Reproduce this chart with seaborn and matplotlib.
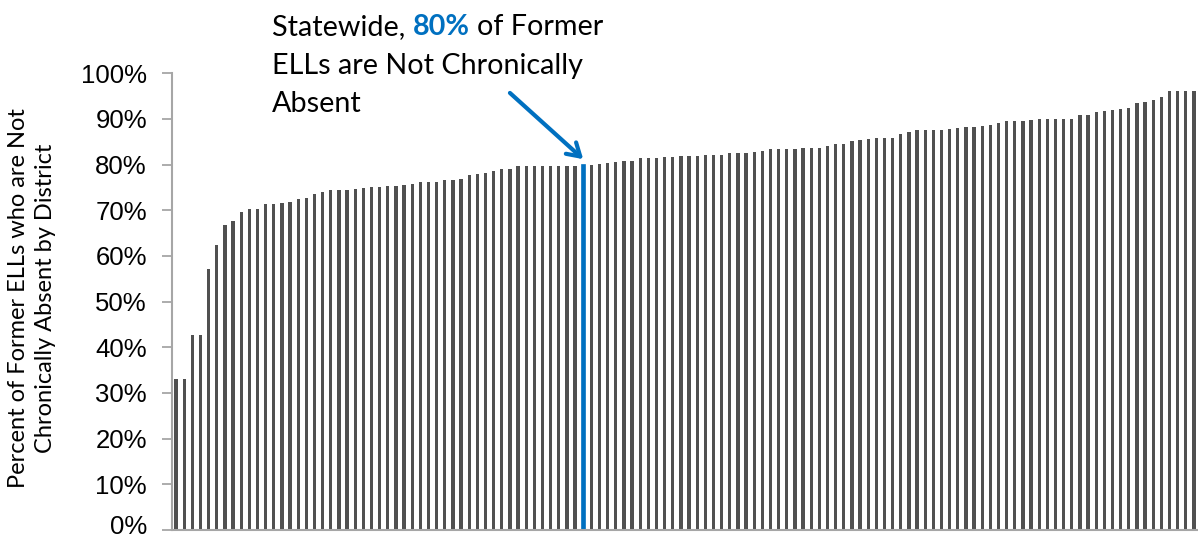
import matplotlib
matplotlib.use("Agg")
import matplotlib.pyplot as plt
import matplotlib.colors as mcolors
import seaborn as sns
import pandas as pd

# ---------------- data ----------------
pct_not_absent = [
    33.1, 33.1, 42.8, 42.8, 57.2, 62.5, 66.8, 67.6, 69.6, 70.2,
    70.2, 71.4, 71.4, 71.6, 71.8, 72.4, 72.7, 73.6, 73.9, 74.4,
    74.4, 74.4, 74.6, 74.9, 75.0, 75.0, 75.4, 75.4, 75.5, 75.7,
    76.1, 76.3, 76.3, 76.6, 76.6, 76.8, 77.7, 77.9, 78.2, 78.7,
    79.0, 79.1, 79.6, 79.6, 79.6, 79.6, 79.6, 79.7, 79.7, 79.8,
    80.0, 80.0, 80.1, 80.4, 80.6, 80.9, 80.9, 81.4, 81.4, 81.4,
    81.6, 81.6, 81.8, 81.8, 81.8, 82.1, 82.1, 82.1, 82.5, 82.5,
    82.6, 82.8, 83.0, 83.4, 83.4, 83.4, 83.4, 83.6, 83.7, 83.7,
    84.0, 84.5, 84.5, 85.1, 85.3, 85.6, 85.9, 85.9, 85.9, 86.8,
    87.1, 87.5, 87.5, 87.6, 87.6, 87.8, 88.1, 88.2, 88.2, 88.4,
    88.7, 89.2, 89.6, 89.6, 89.6, 89.8, 90.0, 90.0, 90.1, 90.1,
    90.1, 90.8, 90.9, 91.6, 91.8, 91.9, 92.2, 92.4, 93.5, 93.8,
    94.1, 94.8, 96.1, 96.1, 96.1, 96.1,
]
statewide_index = 50
statewide_label = "80%"
districts = [f"District {i + 1}" for i in range(len(pct_not_absent))]
groups = ["Statewide" if i == statewide_index else "District" for i in range(len(pct_not_absent))]
y_ticks = [0, 10, 20, 30, 40, 50, 60, 70, 80, 90, 100]
y_tick_labels = [f"{t}%" for t in y_ticks]

GRAY = "#505050"
BLUE = "#0070C0"
AXIS = "#A6A6A6"

df = pd.DataFrame({"district": districts, "pct": pct_not_absent, "group": groups})

W, H = 1198, 542
fig = plt.figure(figsize=(W / 100, H / 100), dpi=100)
ax = fig.add_axes([172 / W, 12 / H, 1026 / W, 456.7 / H])

sns.barplot(data=df, x="district", y="pct", hue="group", order=districts,
            palette={"District": GRAY, "Statewide": BLUE}, dodge=False,
            width=0.4, saturation=1, legend=False, ax=ax)

# statewide bar drawn slightly wider (outlined) as in the reference
blue_rgba = mcolors.to_rgba(BLUE)
for p in ax.patches:
    if all(abs(a - b) < 1e-3 for a, b in zip(p.get_facecolor(), blue_rgba)):
        p.set_edgecolor(BLUE)
        p.set_linewidth(1.2)

TICK_FS = 18.5
TICK_PAD = 11
TICK_LEN = 7
ax.set_xlim(-0.5, len(districts) - 0.5)
ax.set_ylim(0, 100)
ax.set_yticks(y_ticks)
# the 0% label sits at the very bottom edge: draw it separately, nudged up slightly
ax.set_yticklabels([""] + y_tick_labels[1:], fontsize=TICK_FS,
                   family="Liberation Sans", color="black")
ax.annotate(y_tick_labels[0], xy=(0, 0), xycoords=("axes fraction", "data"),
            xytext=(-(TICK_LEN + TICK_PAD), 2.5), textcoords="offset points",
            ha="right", va="center", fontsize=TICK_FS, family="Liberation Sans",
            color="black", annotation_clip=False)
ax.set_xticks([])
ax.set_xlabel("")
ax.set_ylabel("")
for s in ["top", "right"]:
    ax.spines[s].set_visible(False)
for s in ["left", "bottom"]:
    ax.spines[s].set_color(AXIS)
    ax.spines[s].set_linewidth(1.5)
ax.tick_params(axis="y", length=TICK_LEN, width=1.3, color=AXIS, pad=TICK_PAD)
ax.set_facecolor("white")

TEXT_FONT = ["Lato", "DejaVu Sans"]
renderer = fig.canvas.get_renderer()


def width_px(t):
    return t.get_window_extent(renderer=renderer).width


def fit(t, target):
    for _ in range(3):
        w = width_px(t)
        t.set_fontsize(t.get_fontsize() * target / w)


# y-axis label (two lines)
ylab = fig.text(32 / W, 1 - 298 / H,
                "Percent of Former ELLs who are Not\nChronically Absent by District",
                rotation=90, ha="center", va="center", multialignment="center",
                family=TEXT_FONT, fontsize=15, linespacing=1.3)
probe = fig.text(0, 0, "Percent of Former ELLs who are Not", family=TEXT_FONT, fontsize=15)
fit(probe, 380)
ylab.set_fontsize(probe.get_fontsize())
probe.remove()

# annotation text
x0 = 272 / W
base1 = 1 - 35 / H
base2 = 1 - 74 / H
base3 = 1 - 112 / H
probe = fig.text(0, 0, "Statewide, 80% of Former", family=TEXT_FONT, fontsize=20)
fit(probe, 331)
fs = probe.get_fontsize()
probe.remove()

t1 = fig.text(x0, base1, "Statewide,", family=TEXT_FONT, fontsize=fs, va="baseline")
sp_a = fig.text(0, 0, "a a", family=TEXT_FONT, fontsize=fs)
sp_b = fig.text(0, 0, "aa", family=TEXT_FONT, fontsize=fs)
space = (width_px(sp_a) - width_px(sp_b)) / W
sp_a.remove()
sp_b.remove()
x1 = x0 + width_px(t1) / W + space
t2 = fig.text(x1, base1, statewide_label, family=TEXT_FONT, fontsize=fs,
              fontweight="bold", color=BLUE, va="baseline")
x2 = x1 + width_px(t2) / W + space
fig.text(x2, base1, "of Former", family=TEXT_FONT, fontsize=fs, va="baseline")
fig.text(x0, base2, "ELLs are Not Chronically", family=TEXT_FONT, fontsize=fs, va="baseline")
fig.text(x0, base3, "Absent", family=TEXT_FONT, fontsize=fs, va="baseline")

# arrow pointing to the statewide bar
ax.annotate("", xy=(statewide_index, 81.2), xytext=(41.0, 95.7),
            arrowprops=dict(arrowstyle="->,head_length=0.9,head_width=0.55",
                            color=BLUE, lw=3.0, shrinkA=0, shrinkB=0),
            annotation_clip=False)

fig.savefig("out.png", dpi=100, facecolor="white")
